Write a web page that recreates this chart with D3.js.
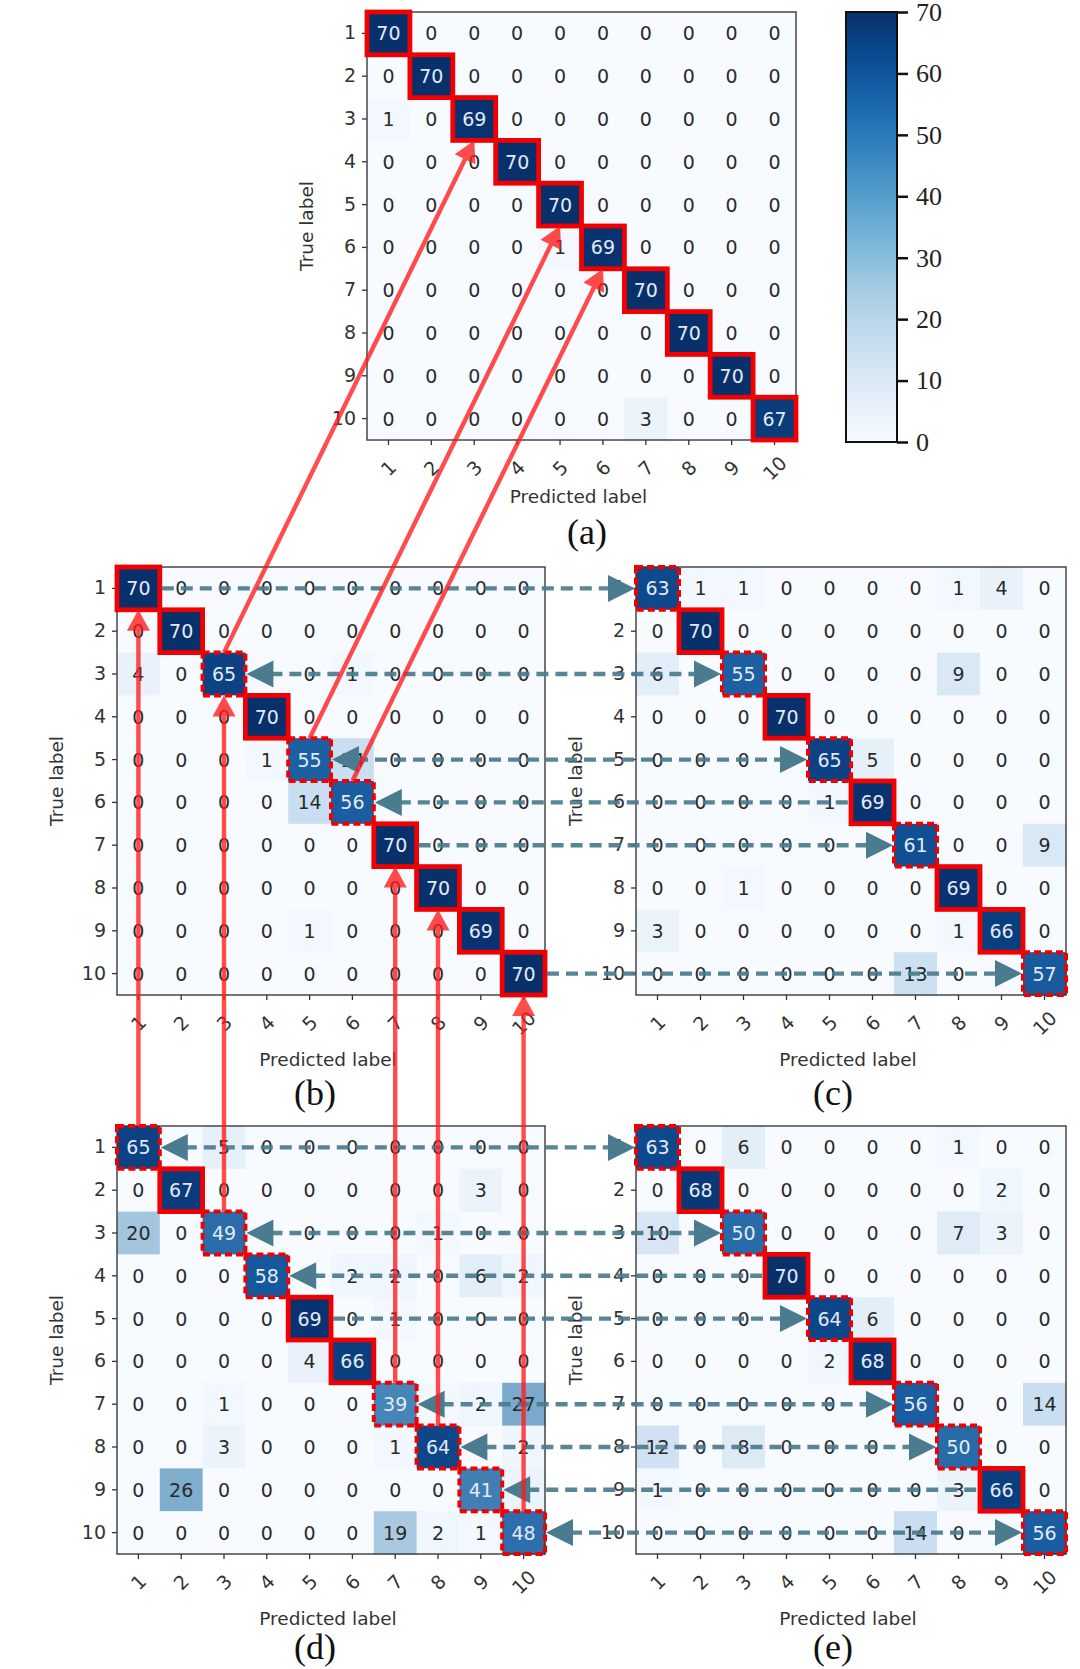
<!DOCTYPE html>
<html><head><meta charset="utf-8">
<script src="https://cdn.jsdelivr.net/npm/d3@7"></script>
<style>body{margin:0;background:#fff}svg{display:block}</style>
</head><body>
<svg id="fig" width="1080" height="1669"></svg>
<script>
// ---------- data ----------
const labels = ["1","2","3","4","5","6","7","8","9","10"];
const colorbarTicks = [0,10,20,30,40,50,60,70];
const vmax = 70;

const matA = [
 [70,0,0,0,0,0,0,0,0,0],
 [0,70,0,0,0,0,0,0,0,0],
 [1,0,69,0,0,0,0,0,0,0],
 [0,0,0,70,0,0,0,0,0,0],
 [0,0,0,0,70,0,0,0,0,0],
 [0,0,0,0,1,69,0,0,0,0],
 [0,0,0,0,0,0,70,0,0,0],
 [0,0,0,0,0,0,0,70,0,0],
 [0,0,0,0,0,0,0,0,70,0],
 [0,0,0,0,0,0,3,0,0,67]];
const matB = [
 [70,0,0,0,0,0,0,0,0,0],
 [0,70,0,0,0,0,0,0,0,0],
 [4,0,65,0,0,1,0,0,0,0],
 [0,0,0,70,0,0,0,0,0,0],
 [0,0,0,1,55,14,0,0,0,0],
 [0,0,0,0,14,56,0,0,0,0],
 [0,0,0,0,0,0,70,0,0,0],
 [0,0,0,0,0,0,0,70,0,0],
 [0,0,0,0,1,0,0,0,69,0],
 [0,0,0,0,0,0,0,0,0,70]];
const matC = [
 [63,1,1,0,0,0,0,1,4,0],
 [0,70,0,0,0,0,0,0,0,0],
 [6,0,55,0,0,0,0,9,0,0],
 [0,0,0,70,0,0,0,0,0,0],
 [0,0,0,0,65,5,0,0,0,0],
 [0,0,0,0,1,69,0,0,0,0],
 [0,0,0,0,0,0,61,0,0,9],
 [0,0,1,0,0,0,0,69,0,0],
 [3,0,0,0,0,0,0,1,66,0],
 [0,0,0,0,0,0,13,0,0,57]];
const matD = [
 [65,0,5,0,0,0,0,0,0,0],
 [0,67,0,0,0,0,0,0,3,0],
 [20,0,49,0,0,0,0,1,0,0],
 [0,0,0,58,0,2,2,0,6,2],
 [0,0,0,0,69,0,1,0,0,0],
 [0,0,0,0,4,66,0,0,0,0],
 [0,0,1,0,0,0,39,1,2,27],
 [0,0,3,0,0,0,1,64,0,2],
 [0,26,0,0,0,0,0,0,41,3],
 [0,0,0,0,0,0,19,2,1,48]];
const matE = [
 [63,0,6,0,0,0,0,1,0,0],
 [0,68,0,0,0,0,0,0,2,0],
 [10,0,50,0,0,0,0,7,3,0],
 [0,0,0,70,0,0,0,0,0,0],
 [0,0,0,0,64,6,0,0,0,0],
 [0,0,0,0,2,68,0,0,0,0],
 [0,0,0,0,0,0,56,0,0,14],
 [12,0,8,0,0,0,0,50,0,0],
 [1,0,0,0,0,0,0,3,66,0],
 [0,0,0,0,0,0,14,0,0,56]];

// diagonal classes drawn with a dashed red frame (others solid)
const dashedA = [];
const dashedB = ["3","5","6"];
const dashedC = ["1","3","5","7","10"];
const dashedD = ["1","3","4","7","8","9","10"];
const dashedE = ["1","3","5","7","8","10"];

// red arrows (class links)
const redLinksBtoA = ["3","5","6"];
const redLinksDtoB = ["1","3","7","8","10"];
// dashed links between side-by-side panels: [row, head on left panel, head on right panel]
const linksBC = [["1",false,true],["3",true,true],["5",true,true],["6",true,false],["7",false,true],["10",false,true]];
const linksDE = [["1",true,true],["3",true,true],["4",true,false],["5",false,true],["7",true,true],["8",true,true],["9",true,false],["10",true,true]];

// ---------- layout ----------
const panels = {
 a:{m:matA, dashed:dashedA, xr:[367,796], yr:[12,440], lab:[587,532], predDy:56},
 b:{m:matB, dashed:dashedB, xr:[117,545], yr:[567,995], lab:[315,1093], predDy:64},
 c:{m:matC, dashed:dashedC, xr:[636,1066], yr:[567,995], lab:[833,1093], predDy:64},
 d:{m:matD, dashed:dashedD, xr:[117,545], yr:[1126,1554], lab:[315,1647], predDy:64},
 e:{m:matE, dashed:dashedE, xr:[636,1066], yr:[1126,1554], lab:[833,1647], predDy:64}
};

const svg = d3.select("#fig");
const colorBar = d3.scaleSequential(d3.interpolateBlues).domain([0, vmax]);
// cell colour: Blues, slightly deepened in the mid range as in the picture
const cellColor = v => {
  const t = v / vmax;
  const base = d3.interpolateBlues(Math.pow(t, 0.92));
  const u = Math.max(0, Math.min(1, (t - 0.2) / 0.8));
  return d3.interpolateRgb(base, "#2d4f86")(0.3 * Math.sin(Math.PI * u));
};
const SANS = "'DejaVu Sans', sans-serif";
const SERIF = "'Liberation Serif', 'Times New Roman', serif";

const layerCells = svg.append("g");
const layerBoxes = svg.append("g");
const layerDash = svg.append("g");
const layerRed = svg.append("g").attr("opacity", 0.78);

function drawPanel(key){
  const p = panels[key];
  const x = d3.scaleBand().domain(labels).range(p.xr);
  const y = d3.scaleBand().domain(labels).range(p.yr);
  p.x = x; p.y = y;
  const g = layerCells.append("g");
  const cells = [];
  p.m.forEach((row,i)=>row.forEach((v,j)=>cells.push({r:labels[i], c:labels[j], v})));
  g.selectAll("rect.cell").data(cells).join("rect")
    .attr("x", d=>x(d.c)).attr("y", d=>y(d.r))
    .attr("width", x.bandwidth()+0.5).attr("height", y.bandwidth()+0.5)
    .attr("fill", d=>cellColor(d.v));
  g.selectAll("text.val").data(cells).join("text")
    .attr("x", d=>x(d.c)+x.bandwidth()/2).attr("y", d=>y(d.r)+y.bandwidth()/2)
    .attr("text-anchor","middle").attr("dominant-baseline","central")
    .style("font-family", SANS).style("font-size","19px")
    .attr("fill", d=> d.v > vmax/2 ? "#e4eaf4" : "#2a2a2a")
    .text(d=>d.v);
  // frame
  g.append("rect").attr("x",p.xr[0]).attr("y",p.yr[0])
    .attr("width",p.xr[1]-p.xr[0]).attr("height",p.yr[1]-p.yr[0])
    .attr("fill","none").attr("stroke","#3a3a3a").attr("stroke-width",1.4);
  // axes
  const ya = g.append("g").attr("transform",`translate(${p.xr[0]},0)`)
    .call(d3.axisLeft(y).tickSize(5).tickPadding(6));
  const xa = g.append("g").attr("transform",`translate(0,${p.yr[1]})`)
    .call(d3.axisBottom(x).tickSize(5));
  [ya, xa].forEach(a=>{
    a.select(".domain").remove();
    a.selectAll("line").attr("stroke","#333").attr("stroke-width",1.3);
    a.selectAll("text").style("font-family",SANS).style("font-size","19px").attr("fill","#333");
  });
  xa.selectAll("text").attr("y",0).attr("dy",null)
    .attr("text-anchor","middle").attr("dominant-baseline","central")
    .attr("transform","translate(0,28) rotate(-45)");
  // axis titles
  g.append("text").attr("transform",`translate(${p.xr[0]-61},${(p.yr[0]+p.yr[1])/2}) rotate(-90)`)
    .attr("text-anchor","middle").attr("dominant-baseline","central")
    .style("font-family",SANS).style("font-size","18.5px").attr("fill","#333").text("True label");
  g.append("text").attr("x",(p.xr[0]+p.xr[1])/2-3).attr("y",p.yr[1]+p.predDy)
    .attr("text-anchor","middle").attr("dominant-baseline","central")
    .style("font-family",SANS).style("font-size","18.5px").attr("fill","#333").text("Predicted label");
  g.append("text").attr("x",p.lab[0]).attr("y",p.lab[1])
    .attr("text-anchor","middle").attr("dominant-baseline","central")
    .style("font-family",SERIF).style("font-size","36px").attr("fill","#111").text(`(${key})`);
  // diagonal frames
  layerBoxes.selectAll(null).data(labels).join("rect")
    .attr("x", d=>x(d)).attr("y", d=>y(d))
    .attr("width", x.bandwidth()).attr("height", y.bandwidth())
    .attr("fill","none").attr("stroke","#f00000")
    .attr("stroke-width", d=>p.dashed.includes(d) ? 4 : 4.8)
    .attr("stroke-dasharray", d=>p.dashed.includes(d) ? "7,4" : null);
}
Object.keys(panels).forEach(drawPanel);

// ---------- colorbar ----------
const cbX = 846, cbW = 51;
const cbScale = d3.scaleLinear().domain([0, vmax]).range([442, 12]);
const defs = svg.append("defs");
const grad = defs.append("linearGradient").attr("id","cbgrad")
  .attr("x1","0").attr("y1","1").attr("x2","0").attr("y2","0");
d3.range(0, 1.0001, 0.05).forEach(t=>grad.append("stop").attr("offset",t).attr("stop-color", colorBar(t*vmax)));
svg.append("rect").attr("x",cbX).attr("y",cbScale(vmax)).attr("width",cbW)
  .attr("height",cbScale(0)-cbScale(vmax)).attr("fill","url(#cbgrad)")
  .attr("stroke","#111").attr("stroke-width",2);
const cba = svg.append("g").attr("transform",`translate(${cbX+cbW},0)`)
  .call(d3.axisRight(cbScale).tickValues(colorbarTicks).tickSize(11).tickPadding(8));
cba.select(".domain").remove();
cba.selectAll("line").attr("stroke","#111").attr("stroke-width",2.5);
cba.selectAll("text").style("font-family",SERIF).style("font-size","26px").attr("fill","#222");

// ---------- arrows ----------
function head(layer, tx, ty, dx, dy, len, hw, fill){
  const n = Math.hypot(dx,dy); dx/=n; dy/=n;
  const bx = tx - dx*len, by = ty - dy*len;
  const px = -dy, py = dx;
  layer.append("path")
    .attr("d", `M${tx},${ty}L${bx+px*hw},${by+py*hw}L${bx-px*hw},${by-py*hw}Z`)
    .attr("fill", fill);
}
function redArrow(x1,y1,x2,y2){
  const dx=x2-x1, dy=y2-y1, n=Math.hypot(dx,dy);
  const ex = x2 - dx/n*16, ey = y2 - dy/n*16;
  layerRed.append("line").attr("x1",x1).attr("y1",y1).attr("x2",ex).attr("y2",ey)
    .attr("stroke","#ff1a1a").attr("stroke-width",4.4);
  head(layerRed, x2, y2, dx, dy, 21, 11.5, "#ff1a1a");
}
const A = panels.a, B = panels.b, C = panels.c, D = panels.d, E = panels.e;
redLinksBtoA.forEach(k=>{
  redArrow(B.x(k)+B.x.bandwidth()/2, B.y(k), A.x(k)+A.x.bandwidth()/2, A.y(k)+A.y.bandwidth());
});
redLinksDtoB.forEach(k=>{
  redArrow(D.x(k)+D.x.bandwidth()/2, D.y(k), B.x(k)+B.x.bandwidth()/2, B.y(k)+B.y.bandwidth());
});

const DASHC = "#4b7b8e";
function dashLink(L, R, link){
  const [k, hl, hr] = link;
  const yy = L.y(k) + L.y.bandwidth()/2;
  const xl = L.x(k) + L.x.bandwidth();
  const xr = R.x(k);
  const len = 27;
  layerDash.append("line")
    .attr("x1", xl + (hl ? len-2 : 2)).attr("x2", xr - (hr ? len-2 : 2))
    .attr("y1", yy).attr("y2", yy)
    .attr("stroke", DASHC).attr("stroke-width", 4.4).attr("stroke-dasharray","12,7")
    .attr("opacity",0.92);
  if (hl) head(layerDash, xl+1, yy, -1, 0, len, 13.5, DASHC);
  if (hr) head(layerDash, xr-1, yy, 1, 0, len, 13.5, DASHC);
}
linksBC.forEach(l=>dashLink(B, C, l));
linksDE.forEach(l=>dashLink(D, E, l));
</script>
</body></html>
